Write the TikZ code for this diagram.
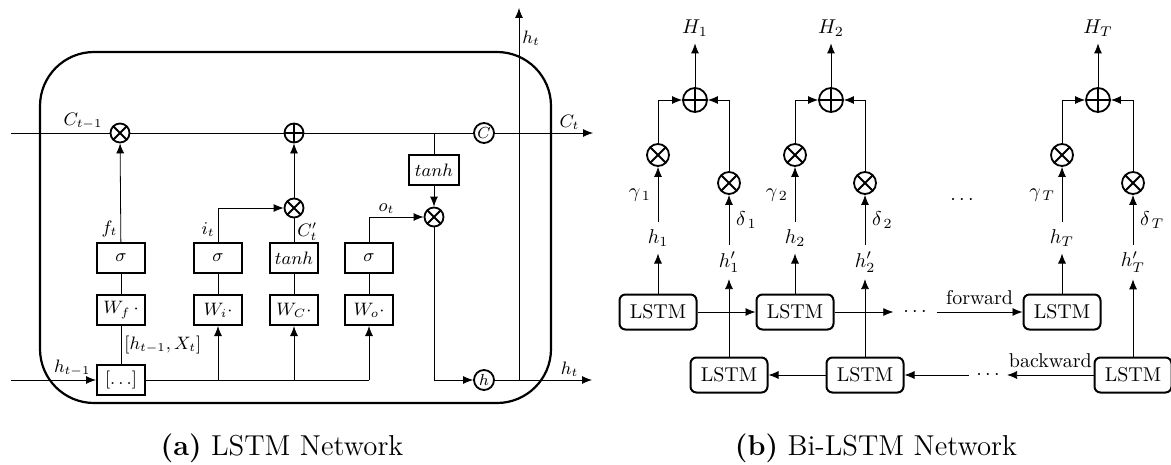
\documentclass[tikz,border=0pt]{standalone}
\usepackage{tikz}
\usetikzlibrary{arrows.meta,positioning}

\tikzset{
  >={Latex[length=5pt,width=4pt]},
  gatebox/.style={draw, line width=1pt, minimum width=24pt, minimum height=15pt, inner sep=1pt, font=\small},
  lstmbox/.style={draw, line width=1pt, rounded corners=3pt, minimum width=38.5pt, minimum height=17.5pt, inner sep=1pt},
  timesnode/.style={circle, draw, line width=0.9pt, minimum size=#1, inner sep=0pt,
    path picture={\draw[line width=0.9pt] (path picture bounding box.north west) -- (path picture bounding box.south east)
      (path picture bounding box.north east) -- (path picture bounding box.south west);}},
  plusnode/.style={circle, draw, line width=0.9pt, minimum size=#1, inner sep=0pt,
    path picture={\draw[line width=0.9pt] (path picture bounding box.north) -- (path picture bounding box.south)
      (path picture bounding box.west) -- (path picture bounding box.east);}},
  circnode/.style={circle, draw, line width=0.9pt, minimum size=10pt, inner sep=0pt, font=\footnotesize},
  lbl/.style={font=\small, inner sep=1.5pt}
}

\begin{document}
\begin{tikzpicture}[x=0.5pt, y=-0.5pt]
\useasboundingbox (0,0) rectangle (1171,465);

% LSTM cell border
\draw[line width=1.1pt, rounded corners=27pt] (40,52) rectangle (551,403);

% Line ends
\coordinate (cin) at (11,133);
\coordinate (cout) at (593,133);
\coordinate (hin) at (11,380);
\coordinate (hout) at (592,380);
\coordinate (htop) at (519,8);

% Operators
\node[timesnode=9.5pt] (fmul) at (120,133) {};
\node[plusnode=9.5pt] (cadd) at (294,133) {};
\node[circnode] (cnew) at (484,133) {$C$};
\node[timesnode=9.5pt] (imul) at (294,208) {};
\node[timesnode=9.5pt] (omul) at (434,217) {};
\node[circnode] (hnew) at (484,380) {$h$};
\node[gatebox, minimum width=25pt] (tanhc) at (434,170) {$tanh$};
\node[gatebox] (concat) at (121,380) {$[\ldots]$};

% Gates
\foreach \n/\x/\act/\w in {f/121/\sigma/W_f\,\cdot, i/218/\sigma/W_i\cdot, c/294/tanh/W_C\cdot, o/369/\sigma/W_o\cdot} {
    \node[gatebox] (act\n) at (\x,258) {$\act$};
    \node[gatebox] (w\n) at (\x,310) {$\w$};
    \draw (w\n) -- (act\n);
}

% Cell state
\draw (cin) -- (fmul) node[lbl, pos=0.73, above] {$C_{t-1}$};
\draw (fmul) -- (cadd) -- (cnew);
\draw[->] (cnew) -- (cout) node[lbl, pos=0.76, above] {$C_t$};

% Input and gate paths
\draw[->] (hin) -- (concat) node[lbl, pos=0.72, above] {$h_{t-1}$};
\draw (concat) -- (wf) node[lbl, midway, right] {$[h_{t-1},X_t]$};
\draw (concat.east) -- (wo |- concat.east);
\foreach \n in {i,c,o} {
    \draw[->] (w\n |- concat.east) -- (w\n);
}
\draw[->] (actf) -- (fmul) node[lbl, pos=0.13, left] {$f_t$};
\draw[->] (acti) |- (imul) node[lbl, pos=0.18, left] {$i_t$};
\draw (actc) -- (imul) node[lbl, pos=0.45, right] {$C'_t$};
\draw[->] (imul) -- (cadd);
\draw[->] (acto) |- (omul) node[lbl, pos=0.66, above] {$o_t$};
\draw (tanhc) -- (tanhc |- cadd);
\draw[->] (tanhc) -- (omul);

% Hidden state output
\draw[->] (omul) |- (hnew);
\draw[->] (hnew) -- (hout) node[lbl, pos=0.77, above] {$h_t$};
\draw[->] (hnew -| htop) -- (htop) node[lbl, pos=0.92, right] {$h_t$};

% Bi-LSTM columns
\foreach \k/\fx/\bx/\sx in {1/658/729/695, 2/795/865/831, T/1062/1133/1098} {
    \node[lstmbox] (f\k) at (\fx,312) {LSTM};
    \node[lstmbox] (b\k) at (\bx,375) {LSTM};
    \node (h\k) at (\fx,238) {$h_\k$};
    \node (hp\k) at (\bx,262) {$h'_\k$};
    \node[timesnode=11pt] (g\k) at (\fx,155) {};
    \node[timesnode=11pt] (d\k) at (\bx,183) {};
    \node[plusnode=12pt] (s\k) at (\sx,100) {};
    \node (H\k) at (\sx,28) {$H_\k$};
    \draw[->] (f\k) -- (h\k);
    \draw[->] (b\k) -- (hp\k);
    \draw[->] (h\k) -- (g\k) node[midway, left] {$\gamma_{\,\k}$};
    \draw[->] (hp\k) -- (d\k) node[midway, right] {$\delta_{\,\k}$};
    \draw[->] (g\k) |- (s\k);
    \draw[->] (d\k) |- (s\k);
    \draw[->] (s\k) -- (H\k);
}
\node (gdots) at (962,200) {$\cdots$};

% Forward chain
\node[inner sep=4.8pt] (fdots) at (915,312) {$\cdots$};
\draw[->] (f1) -- (f2);
\draw[->] (f2) -- (fdots);
\draw[->] (fdots) -- (fT) node[midway, above] {forward};

% Backward chain
\node[inner sep=3.5pt] (bdots) at (988,375) {$\cdots$};
\draw[->] (bT) -- (bdots) node[midway, above] {backward};
\draw[->] (bdots) -- (b2);
\draw[->] (b2) -- (b1);

% Captions
\node[font=\Large] (capa) at (282,448) {\textbf{(a)} LSTM Network};
\node[font=\Large] (capb) at (876,448) {\textbf{(b)} Bi-LSTM Network};
\end{tikzpicture}
\end{document}
